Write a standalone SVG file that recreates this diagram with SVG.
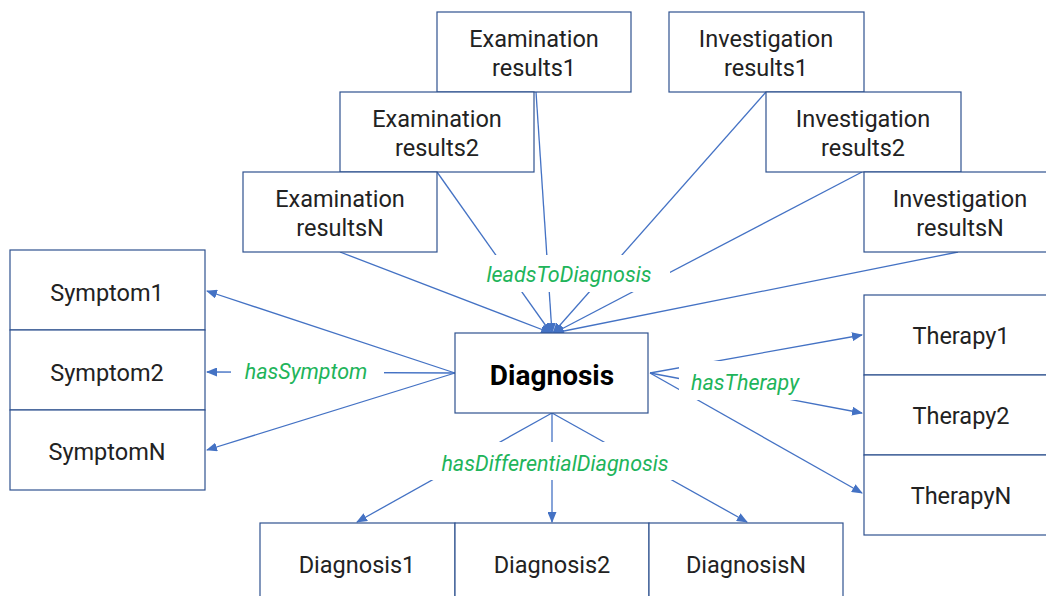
<svg xmlns="http://www.w3.org/2000/svg" width="1046" height="596" viewBox="0 0 1046 596">
<defs>
<marker id="arr" markerUnits="userSpaceOnUse" markerWidth="11" markerHeight="9" refX="10" refY="4.5" orient="auto"><path d="M0,0 L11,4.5 L0,9 z" fill="#4472C4"/></marker>
<style>
.box{fill:#fff;stroke:#2F528F;stroke-width:1.2}
.t{font-family:Roboto,"Liberation Sans",sans-serif;font-size:23.5px;fill:#222;text-anchor:middle}
.b{font-weight:bold;font-size:28px;fill:#000}
.c{stroke:#4472C4;stroke-width:1.3;fill:none}
.lbl{font-family:Roboto,"Liberation Sans",sans-serif;font-style:italic;font-size:21.5px;fill:#21B45A;text-anchor:middle}
.bg{fill:#fff}
</style>
</defs>
<rect width="1046" height="596" fill="#fff"/>
<g id="connectors">
<path class="c" d="M340,252 L551,333" marker-end="url(#arr)"/>
<path class="c" d="M437,172 L551,333" marker-end="url(#arr)"/>
<path class="c" d="M536,92 L552,333" marker-end="url(#arr)"/>
<path class="c" d="M766,92 L553,333" marker-end="url(#arr)"/>
<path class="c" d="M862,172 L554,333" marker-end="url(#arr)"/>
<path class="c" d="M958,252 L554,333" marker-end="url(#arr)"/>
<path class="c" d="M455,373 L207,291" marker-end="url(#arr)"/>
<path class="c" d="M455,373 L207,372" marker-end="url(#arr)"/>
<path class="c" d="M455,373 L207,450" marker-end="url(#arr)"/>
<path class="c" d="M650,373 L862,335" marker-end="url(#arr)"/>
<path class="c" d="M650,373 L862,413" marker-end="url(#arr)"/>
<path class="c" d="M650,373 L862,493" marker-end="url(#arr)"/>
<path class="c" d="M552,413 L357,522" marker-end="url(#arr)"/>
<path class="c" d="M552,413 L552,522" marker-end="url(#arr)"/>
<path class="c" d="M552,413 L747,522" marker-end="url(#arr)"/>
<rect class="bg" x="470" y="255" width="200" height="37"/>
<text class="lbl" x="569" y="282">leadsToDiagnosis</text>
<rect class="bg" x="231" y="360" width="153" height="26"/>
<text class="lbl" x="306" y="379">hasSymptom</text>
<rect class="bg" x="679" y="361" width="121" height="39"/>
<text class="lbl" x="745" y="390">hasTherapy</text>
<rect class="bg" x="430" y="442" width="245" height="38"/>
<text class="lbl" x="555" y="471">hasDifferentialDiagnosis</text>
</g>
<g id="exam1"><rect class="box" x="437" y="12" width="194" height="80"/><text class="t" x="534" y="47">Examination</text><text class="t" x="534" y="76">results1</text></g>
<g id="exam2"><rect class="box" x="340" y="92" width="194" height="80"/><text class="t" x="437" y="127">Examination</text><text class="t" x="437" y="156">results2</text></g>
<g id="examN"><rect class="box" x="243" y="172" width="194" height="80"/><text class="t" x="340" y="207">Examination</text><text class="t" x="340" y="236">resultsN</text></g>
<g id="inv1"><rect class="box" x="669" y="12" width="195" height="80"/><text class="t" x="766" y="47">Investigation</text><text class="t" x="766" y="76">results1</text></g>
<g id="inv2"><rect class="box" x="766" y="92" width="195" height="80"/><text class="t" x="863" y="127">Investigation</text><text class="t" x="863" y="156">results2</text></g>
<g id="invN"><rect class="box" x="864" y="172" width="195" height="80"/><text class="t" x="960" y="207">Investigation</text><text class="t" x="960" y="236">resultsN</text></g>
<g id="symptom1"><rect class="box" x="10" y="250" width="195" height="80"/><text class="t" x="107" y="301">Symptom1</text></g>
<g id="symptom2"><rect class="box" x="10" y="330" width="195" height="80"/><text class="t" x="107" y="381">Symptom2</text></g>
<g id="symptomN"><rect class="box" x="10" y="410" width="195" height="80"/><text class="t" x="107" y="460">SymptomN</text></g>
<g id="diagnosis"><rect class="box" x="455" y="333" width="193" height="80"/><text class="t b" x="552" y="385">Diagnosis</text></g>
<g id="therapy1"><rect class="box" x="864" y="295" width="195" height="80"/><text class="t" x="961" y="344">Therapy1</text></g>
<g id="therapy2"><rect class="box" x="864" y="375" width="195" height="80"/><text class="t" x="961" y="424">Therapy2</text></g>
<g id="therapyN"><rect class="box" x="864" y="455" width="195" height="80"/><text class="t" x="961" y="504">TherapyN</text></g>
<g id="diag1"><rect class="box" x="260" y="523" width="195" height="80"/><text class="t" x="357" y="573">Diagnosis1</text></g>
<g id="diag2"><rect class="box" x="455" y="523" width="194" height="80"/><text class="t" x="552" y="573">Diagnosis2</text></g>
<g id="diagN"><rect class="box" x="649" y="523" width="194" height="80"/><text class="t" x="746" y="573">DiagnosisN</text></g>
</svg>
